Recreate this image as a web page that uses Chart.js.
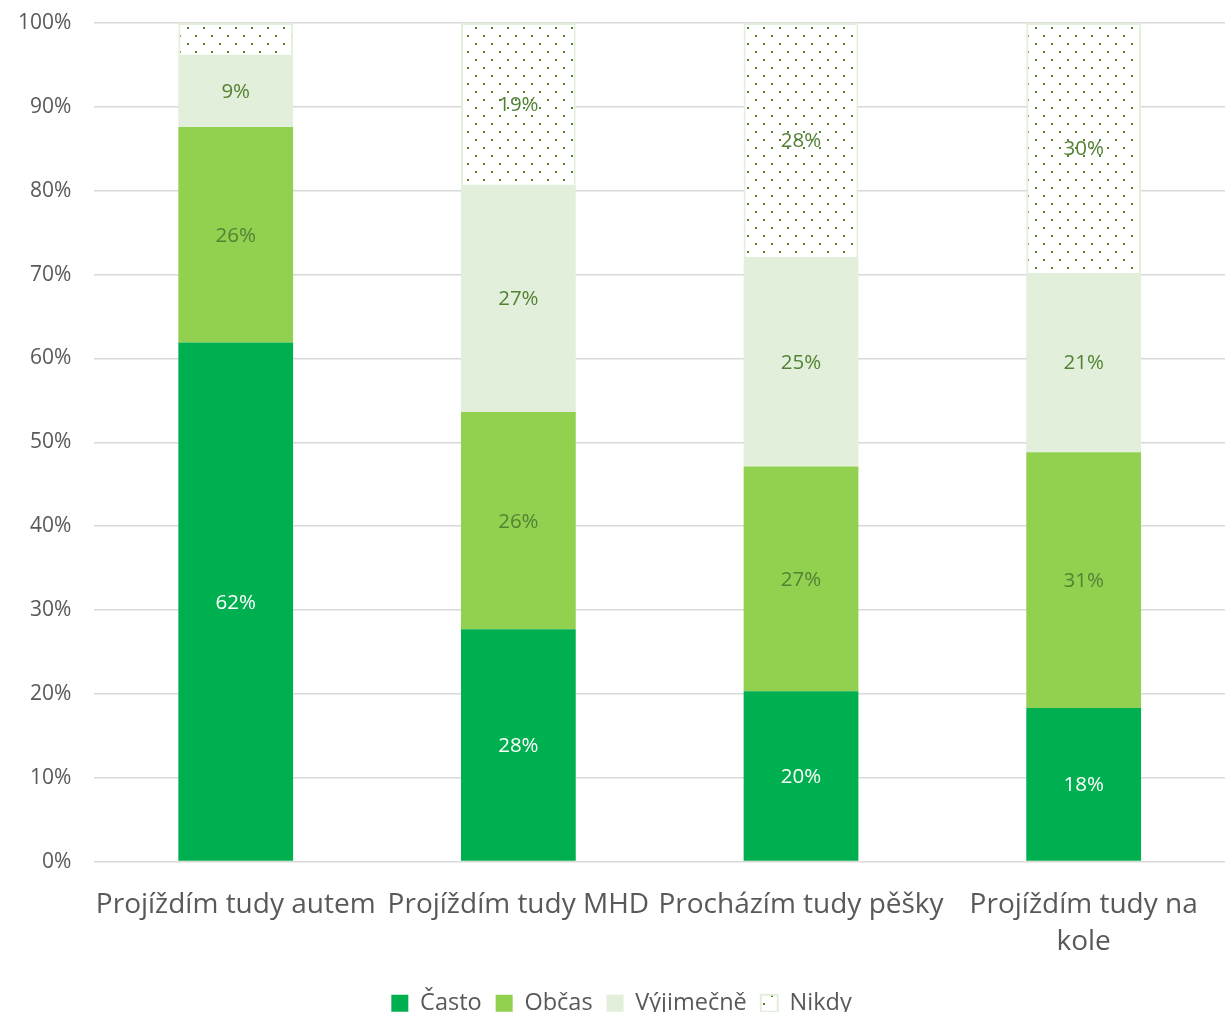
<!DOCTYPE html>
<html>
<head>
<meta charset="utf-8">
<script src="https://cdn.jsdelivr.net/npm/chart.js"></script>
<style>
  body { margin: 0; background: #fff; }
  #wrap { width: 1225px; height: 1012px; position: relative; }
</style>
</head>
<body>
<div id="wrap"><canvas id="myChart"></canvas></div>
<script>
// data (percent of respondents)
let categories = [['Projíždím tudy autem'], ['Projíždím tudy MHD'], ['Procházím tudy pěšky'], ['Projíždím tudy na', 'kole']]
let casto = [61.9, 27.7, 20.3, 18.3]
let obcas = [25.7, 25.9, 26.8, 30.5]
let vyjimecne = [8.6, 27.1, 25.0, 21.4]
let nikdy = [3.8, 19.3, 27.9, 29.8]
let seriesNames = ['Často', 'Občas', 'Výjimečně', 'Nikdy']
let yTicks = [0, 10, 20, 30, 40, 50, 60, 70, 80, 90, 100]

// dotted fill for "Nikdy"
function dotPattern(){
    let c = document.createElement('canvas')
    c.width = 16
    c.height = 16
    let x = c.getContext('2d')
    x.fillStyle = '#ffffff'
    x.fillRect(0, 0, 16, 16)
    x.fillStyle = '#548235'
    x.fillRect(3, 3, 2, 2)
    x.fillRect(11, 11, 2, 2)
    return x.createPattern(c, 'repeat')
}

// simple value labels in the middle of each segment
const segLabels = {
    id: 'segLabels',
    afterDatasetsDraw(chart){
        let ctx = chart.ctx
        ctx.save()
        ctx.font = '20.5px "Open Sans"'
        ctx.textAlign = 'center'
        ctx.textBaseline = 'middle'
        chart.data.datasets.forEach((ds, i) => {
            let meta = chart.getDatasetMeta(i)
            meta.data.forEach((bar, j) => {
                let v = ds.data[j]
                if (v < 5) return
                ctx.fillStyle = i == 0 ? '#ffffff' : '#548235'
                ctx.fillText(Math.round(v) + '%', bar.x, (bar.y + bar.base) / 2 + 1)
            })
        })
        ctx.restore()
    }
}

Chart.defaults.font.family = '"Open Sans"'
Chart.defaults.color = '#595959'

let ctx = document.getElementById('myChart').getContext('2d')
let myChart = new Chart(ctx, {
    type: 'bar',
    data: {
        labels: categories,
        datasets: [
            { label: seriesNames[0], data: casto, backgroundColor: '#00b050', borderWidth: 0 },
            { label: seriesNames[1], data: obcas, backgroundColor: '#92d050', borderWidth: 0 },
            { label: seriesNames[2], data: vyjimecne, backgroundColor: '#e2efda', borderWidth: 0 },
            { label: seriesNames[3], data: nikdy, backgroundColor: dotPattern(), borderColor: '#e2efda', borderWidth: 2 }
        ]
    },
    options: {
        responsive: true,
        maintainAspectRatio: false,
        animation: false,
        layout: { padding: { top: 23, right: 0, left: 18, bottom: -13 } },
        datasets: { bar: { barPercentage: 0.406, categoryPercentage: 1 } },
        scales: {
            x: {
                stacked: true,
                grid: { display: true, drawOnChartArea: false, drawTicks: true, tickLength: 25, tickColor: 'rgba(0,0,0,0)' },
                border: { display: false },
                ticks: { font: { size: 28, lineHeight: 1.32 }, color: '#595959', padding: 0, maxRotation: 0, autoSkip: false },
                afterFit: axis => { axis.height += 17 }
            },
            y: {
                stacked: true,
                min: 0,
                max: 100,
                afterBuildTicks: axis => { axis.ticks = yTicks.map(v => ({ value: v })) },
                grid: { color: '#d9d9d9', lineWidth: 1.5, drawTicks: true, tickLength: 23, tickColor: 'rgba(0,0,0,0)' },
                border: { display: false },
                ticks: { font: { size: 21 }, color: '#595959', padding: 0, callback: v => v + '%' }
            }
        },
        plugins: {
            legend: {
                position: 'bottom',
                padding: 0,
                labels: { font: { size: 23.5 }, color: '#595959', boxWidth: 17, boxHeight: 17, padding: 14 }
            },
            tooltip: { enabled: false }
        }
    },
    plugins: [segLabels]
})
</script>
</body>
</html>
